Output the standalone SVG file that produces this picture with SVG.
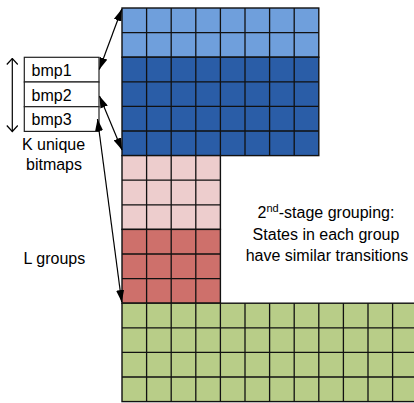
<svg xmlns="http://www.w3.org/2000/svg" width="414" height="403" viewBox="0 0 414 403">
  <defs>
    <marker id="head" viewBox="0 0 12 8" refX="12" refY="4" markerWidth="12" markerHeight="8" markerUnits="userSpaceOnUse" orient="auto-start-reverse">
      <path d="M0,0 L12,4 L0,8 z" fill="#000"/>
    </marker>
    <marker id="open" viewBox="0 0 8 12" refX="7" refY="6" markerWidth="8" markerHeight="12" markerUnits="userSpaceOnUse" orient="auto-start-reverse">
      <path d="M1,0.5 L7,6 L1,11.5" fill="none" stroke="#000" stroke-width="1.2"/>
    </marker>
  </defs>
  <style>
    .band { stroke: #111; stroke-width: 1.4; }
    .grid { fill: none; stroke: #111; stroke-width: 1.3; }
    .cell { fill: #fff; stroke: #222; stroke-width: 1.2; }
    .lbl { font-family: "Liberation Sans", Arial, sans-serif; font-size: 16px; fill: #000; }
    .mid { text-anchor: middle; }
    .link { stroke: #000; stroke-width: 1.2; fill: none; }
  </style>

  <rect width="414" height="403" fill="#fff"/>

  <!-- state blocks: 24.6px cells starting at (122, 8) -->
  <g id="blue-light">
    <rect class="band" x="122" y="8" width="196.8" height="49.2" fill="#6F9FDC"/>
    <path class="grid" d="M146.6,8V57.2M171.2,8V57.2M195.8,8V57.2M220.4,8V57.2M245,8V57.2M269.6,8V57.2M294.2,8V57.2M122,32.6H318.8"/>
  </g>
  <g id="blue-dark">
    <rect class="band" x="122" y="57.2" width="196.8" height="98.4" fill="#2A5DA7"/>
    <path class="grid" d="M146.6,57.2V155.6M171.2,57.2V155.6M195.8,57.2V155.6M220.4,57.2V155.6M245,57.2V155.6M269.6,57.2V155.6M294.2,57.2V155.6M122,81.8H318.8M122,106.4H318.8M122,131H318.8"/>
  </g>
  <g id="pink-light">
    <rect class="band" x="122" y="155.6" width="98.4" height="73.8" fill="#EDCDCD"/>
    <path class="grid" d="M146.6,155.6V229.4M171.2,155.6V229.4M195.8,155.6V229.4M122,180.2H220.4M122,204.8H220.4"/>
  </g>
  <g id="red">
    <rect class="band" x="122" y="229.4" width="98.4" height="73.8" fill="#CE706B"/>
    <path class="grid" d="M146.6,229.4V303.2M171.2,229.4V303.2M195.8,229.4V303.2M122,254H220.4M122,278.6H220.4"/>
  </g>
  <g id="green">
    <rect class="band" x="122" y="303.2" width="295.2" height="98.4" fill="#B8CD88"/>
    <path class="grid" d="M146.6,303.2V401.6M171.2,303.2V401.6M195.8,303.2V401.6M220.4,303.2V401.6M245,303.2V401.6M269.6,303.2V401.6M294.2,303.2V401.6M318.8,303.2V401.6M343.4,303.2V401.6M368,303.2V401.6M392.6,303.2V401.6M122,327.8H417M122,352.4H417M122,377H417"/>
  </g>

  <!-- bitmap table -->
  <g id="bitmaps">
    <rect class="cell" x="24.3" y="57.3" width="74.7" height="24.7"/>
    <rect class="cell" x="24.3" y="82" width="74.7" height="24.7"/>
    <rect class="cell" x="24.3" y="106.7" width="74.7" height="24.7"/>
    <text class="lbl" x="31.5" y="76">bmp1</text>
    <text class="lbl" x="31.5" y="100.5">bmp2</text>
    <text class="lbl" x="31.5" y="125.2">bmp3</text>
  </g>

  <!-- connectors -->
  <g id="connectors">
    <line class="link" x1="12.3" y1="58.5" x2="12.3" y2="131.5" marker-start="url(#open)" marker-end="url(#open)"/>
    <line class="link" x1="99.3" y1="69.5" x2="121.8" y2="9" marker-start="url(#head)" marker-end="url(#head)"/>
    <line class="link" x1="99.5" y1="96" x2="122" y2="150" marker-start="url(#head)" marker-end="url(#head)"/>
    <line class="link" x1="97.5" y1="119" x2="121.7" y2="302" marker-start="url(#head)" marker-end="url(#head)"/>
  </g>

  <!-- labels -->
  <g id="labels">
    <text class="lbl mid" x="53.5" y="150">K unique</text>
    <text class="lbl mid" x="54" y="170">bitmaps</text>
    <text class="lbl" x="23.5" y="264">L groups</text>
    <text class="lbl mid" x="326" y="218.3">2<tspan font-size="11" dy="-6">nd</tspan><tspan dy="6">-stage grouping:</tspan></text>
    <text class="lbl mid" x="326" y="239.5">States in each group</text>
    <text class="lbl mid" x="327" y="260.7">have similar transitions</text>
  </g>
</svg>
